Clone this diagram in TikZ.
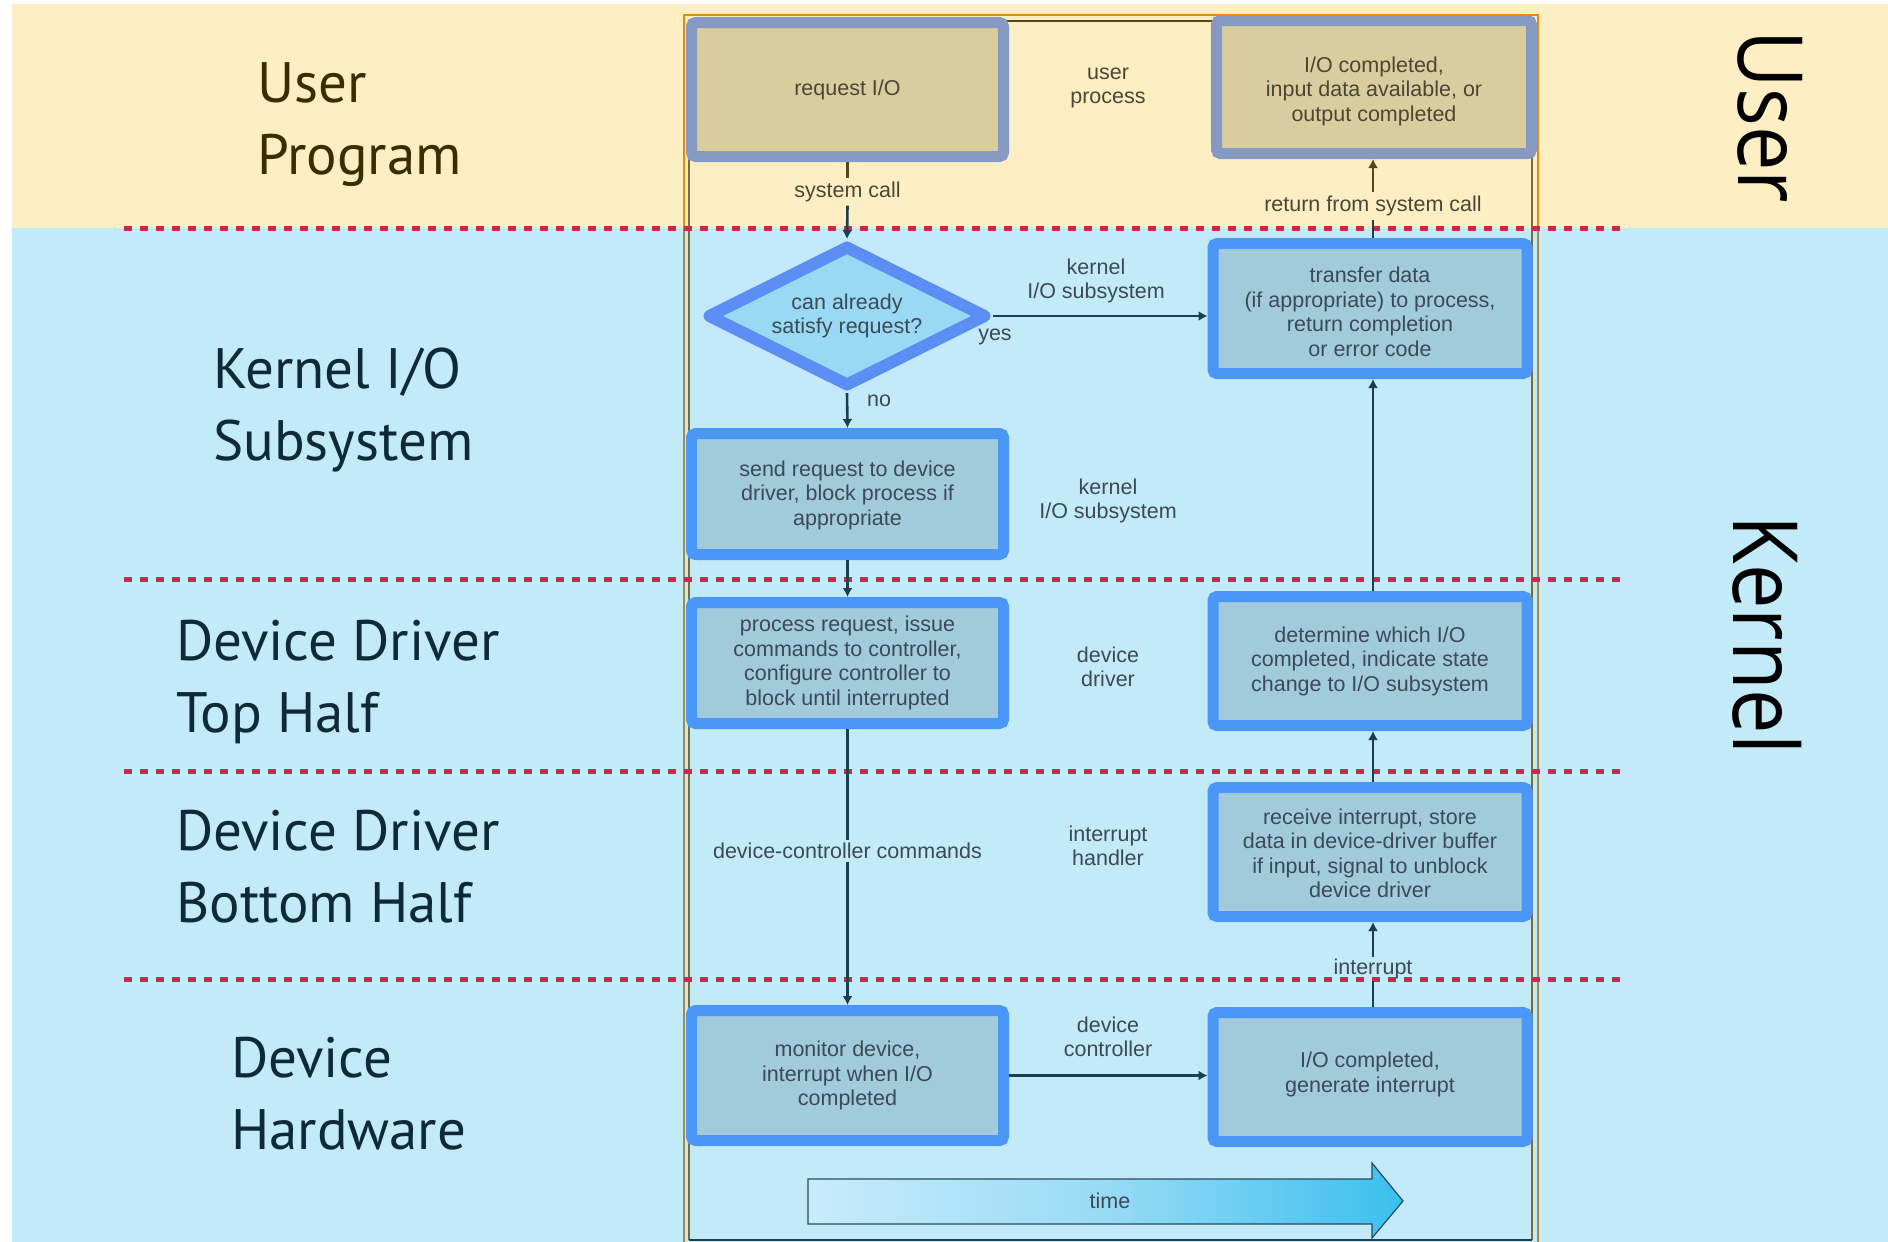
\documentclass[tikz,border=0pt]{standalone}
\usepackage{fontspec}
\setmainfont{Liberation Sans}
\newfontfamily\labfont{PT Sans}
\newfontfamily\sidefont[FakeStretch=0.88]{Open Sans}
\usetikzlibrary{arrows.meta,shapes.geometric,calc}
\newcommand\lowtext[2]{\raisebox{-#1}[\height][\depth]{\begin{tabular}{@{}c@{}}#2\end{tabular}}}
\definecolor{bgY}{HTML}{FDEEC4}
\definecolor{bgB}{HTML}{C3EAF8}
\definecolor{yBord}{HTML}{8699C2}
\definecolor{yFill}{HTML}{D9CC9F}
\definecolor{bBord}{HTML}{4B97F7}
\definecolor{bFill}{HTML}{A1CADB}
\definecolor{dBord}{HTML}{5C8EF6}
\definecolor{dFill}{HTML}{9AD9F3}
\definecolor{yText}{HTML}{4B4634}
\definecolor{bText}{HTML}{3A4A56}
\definecolor{lineB}{HTML}{1E3E50}
\definecolor{lineY}{HTML}{574717}
\definecolor{dotC}{HTML}{C8294F}
\definecolor{frameO}{HTML}{E58A0C}
\definecolor{frameG}{HTML}{A88A45}
\definecolor{frameIn}{HTML}{7E6A3A}
\definecolor{leftY}{HTML}{3A2E00}
\definecolor{leftB}{HTML}{0E2A3A}
\definecolor{timeL}{HTML}{C8ECFA}
\definecolor{timeM}{HTML}{98DBF5}
\definecolor{timeR}{HTML}{3ABFEE}
\definecolor{timeO}{HTML}{2A4A5A}
\begin{document}
\begin{tikzpicture}[x=1pt,y=-1pt,
  boxtext/.style={font=\fontsize{21.5}{24.5}\selectfont, align=center},
  ybox/.style={boxtext, draw=yBord, fill=yFill, line width=11pt, rounded corners=4pt, text=yText, inner sep=0pt},
  bbox/.style={boxtext, draw=bBord, fill=bFill, line width=11pt, rounded corners=4pt, text=bText, inner sep=0pt},
  lbl/.style={boxtext, text=bText},
  ylbl/.style={boxtext, text=yText},
  conn/.style={line width=2.6pt, draw=lineB},
  yconn/.style={line width=2.6pt, draw=lineY},
  arr/.style={conn, -{Latex[length=9pt,width=10pt]}},
  side/.style={font=\labfont\fontsize{57}{72}\selectfont, align=left, anchor=west, inner sep=0pt},
  vside/.style={font=\sidefont\fontsize{90}{96}\selectfont, rotate=-90, inner sep=0pt, text=black},
  dots/.style={line width=5pt, draw=dotC, dash pattern=on 8pt off 8pt}
]
\useasboundingbox (0,0) rectangle (1888,1242);
% backgrounds
\fill[white] (0,0) rectangle (1888,1242);
\fill[bgY] (12,4) rectangle (1888,228);
\fill[bgB] (12,228) rectangle (1888,1242);
% frame
\draw[line width=2.5pt, frameO] (684,228) -- (684,15) -- (1538,15) -- (1538,228);
\draw[line width=2.5pt, frameG] (684,228) -- (684,1242);
\draw[line width=2.5pt, frameG] (1538,228) -- (1538,1242);
\draw[line width=1.6pt, frameIn] (689,1240) -- (689,21) -- (1532,21) -- (1532,1240);
\draw[line width=2.5pt, lineY] (689,21) -- (1532,21);
\draw[line width=2.5pt, lineB] (689,1240) -- (1532,1240);
% dotted separators
\draw[dots] (124,228) -- (1620,228);
\draw[dots] (124,579) -- (1620,579);
\draw[dots] (124,771) -- (1620,771);
\draw[dots] (124,979) -- (1620,979);
% left labels
\node[side, text=leftY] (lUser) at (257,124.5) {User\\Program};
\node[side, text=leftB] (lKern) at (213,410) {Kernel I/O\\Subsystem};
\node[side, text=leftB] (lTop) at (176,682) {Device Driver\\Top Half};
\node[side, text=leftB] (lBot) at (176,867) {Device Driver\\Bottom Half};
\node[side, text=leftB] (lHw) at (231,1094) {Device\\Hardware};
% right labels
\node[vside] (rUser) at (1770,117) {User};
\node[vside] (rKern) at (1767,635) {Kernel};
% boxes
\node[ybox, minimum width=312pt, minimum height=134pt] (req) at (847.5,89.5) {request I/O};
\node[ybox, minimum width=315pt, minimum height=133pt] (done) at (1374,87) {\lowtext{5pt}{I/O completed,\\input data available, or\\output completed}};
\node[diamond, aspect=2, draw=dBord, fill=dFill, line width=12pt, line join=round, boxtext, text=bText, inner sep=0pt, minimum width=280pt, minimum height=142pt] (dia) at (847,316) {can already\\satisfy request?};
\node[bbox, minimum width=314pt, minimum height=130pt] (transfer) at (1370,308.5) {\lowtext{6pt}{transfer data\\(if appropriate) to process,\\return completion\\or error code}};
\node[bbox, minimum width=312pt, minimum height=121pt] (send) at (847.5,494) {\lowtext{2pt}{send request to device\\driver, block process if\\appropriate}};
\node[bbox, minimum width=312pt, minimum height=121pt] (process) at (847.5,663) {process request, issue\\commands to controller,\\configure controller to\\block until interrupted};
\node[bbox, minimum width=314pt, minimum height=129pt] (determine) at (1370,661) {determine which I/O\\completed, indicate state\\change to I/O subsystem};
\node[bbox, minimum width=314pt, minimum height=129pt] (receive) at (1370,852) {\lowtext{4pt}{receive interrupt, store\\data in device-driver buffer\\if input, signal to unblock\\device driver}};
\node[bbox, minimum width=312pt, minimum height=130pt] (monitor) at (847.5,1075.5) {monitor device,\\interrupt when I/O\\completed};
\node[bbox, minimum width=314pt, minimum height=129pt] (gen) at (1370,1077) {\lowtext{-2pt}{I/O completed,\\generate interrupt}};
% middle labels
\node[ylbl] (uproc) at (1108,88) {user\\process};
\node[lbl] (kio1) at (1096,281) {kernel\\I/O subsystem};
\node[lbl] (yes) at (995,337) {yes};
\node[lbl] (no) at (879,401) {no};
\node[lbl] (kio2) at (1108,501) {kernel\\I/O subsystem};
\node[lbl] (ddrv) at (1108,667) {device\\driver};
\node[lbl] (ihand) at (1108,846) {interrupt\\handler};
\node[lbl] (dctl) at (1108,1037) {device\\controller};
% connector labels
\node[ylbl] (syscall) at (847.5,192) {system call};
\node[ylbl] (ret) at (1373,206) {return from system call};
\node[lbl] (dcc) at (847.5,851) {device-controller commands};
\node[lbl, inner sep=2pt] (intr) at (1373,969) {interrupt};
% connectors
\draw[yconn] (req.south) -- (syscall.north);
\draw[arr] (syscall.south) -- (dia.north);
\draw[arr] (dia.east) -- (transfer.west |- dia.east);
\draw[arr] (dia.south) -- (send.north);
\draw[arr] (send.south) -- (process.north);
\draw[conn] (process.south) -- (dcc.north);
\draw[arr] (dcc.south) -- (monitor.north);
\draw[arr] (monitor.east) -- (gen.west |- monitor.east);
\draw[conn] (gen.north -| intr.south) -- (intr.south);
\draw[arr] (intr.north) -- (intr.north |- receive.south);
\draw[arr] (receive.north -| intr.north) -- (intr.north |- determine.south);
\draw[arr] (determine.north -| intr.north) -- (intr.north |- transfer.south);
\draw[conn] (transfer.north -| ret.south) -- (ret.south);
\draw[arr, draw=lineY] (ret.north) -- (ret.north |- done.south);
% time arrow
\path[left color=timeL, right color=timeR, middle color=timeM] (808,1179) -- (1372,1179) -- (1372,1163) -- (1403,1201) -- (1372,1238) -- (1372,1224) -- (808,1224) -- cycle;
\draw[line width=1.2pt, draw=timeO] (808,1179) -- (1372,1179) -- (1372,1163) -- (1403,1201) -- (1372,1238) -- (1372,1224) -- (808,1224) -- cycle;
\node[lbl] (time) at (1110,1201) {time};
\end{tikzpicture}
\end{document}
